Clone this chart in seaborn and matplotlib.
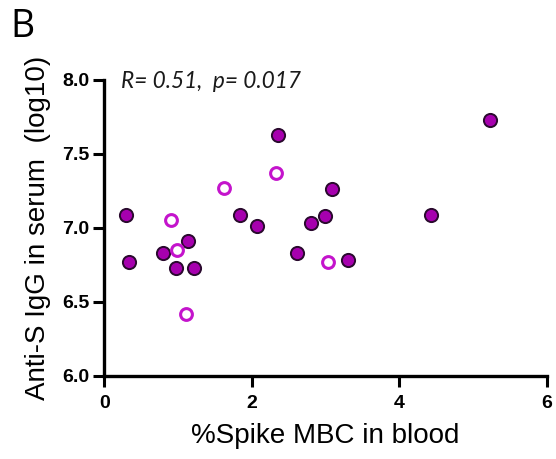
import matplotlib
matplotlib.use("Agg")
import matplotlib.pyplot as plt
import seaborn as sns
import pandas as pd

# Filled points
filled_x = [0.30, 0.34, 0.80, 1.13, 0.97, 1.22, 1.84, 2.07, 2.36, 2.62, 2.80, 2.99, 3.09, 3.31, 4.43, 5.23]
filled_y = [7.09, 6.77, 6.83, 6.91, 6.73, 6.73, 7.09, 7.01, 7.63, 6.83, 7.03, 7.08, 7.26, 6.78, 7.09, 7.73]
# Open points
open_x = [0.90, 1.62, 2.33, 3.04, 1.11, 0.98]
open_y = [7.05, 7.27, 7.37, 6.77, 6.42, 6.85]

xticks = [0, 2, 4, 6]
yticks = [6.0, 6.5, 7.0, 7.5, 8.0]
ytick_labels = ["6.0", "6.5", "7.0", "7.5", "8.0"]

sns.set_style("ticks", {"text.color": "black", "axes.labelcolor": "black",
                        "xtick.color": "black", "ytick.color": "black",
                        "axes.edgecolor": "black"})
plt.rcParams['font.family'] = ['Liberation Sans', 'DejaVu Sans']

fig = plt.figure(figsize=(5.56, 4.59), dpi=100)
ax = fig.add_axes([0.1876, 0.181, 0.7955, 0.645])

df_f = pd.DataFrame({"x": filled_x, "y": filled_y})
df_o = pd.DataFrame({"x": open_x, "y": open_y})

sns.scatterplot(data=df_f, x="x", y="y", ax=ax, s=90, color="#a600ae",
                edgecolor="#2a0a2e", linewidth=1.4, zorder=3, clip_on=False)
sns.scatterplot(data=df_o, x="x", y="y", ax=ax, s=72, facecolor="white",
                edgecolor="#c414cc", linewidth=2.2, zorder=4, clip_on=False)

ax.set_xlim(0, 6)
ax.set_ylim(6.0, 8.0)
ax.set_xticks(xticks)
ax.set_yticks(yticks)
ax.set_yticklabels(ytick_labels)
for lab in ax.get_xticklabels() + ax.get_yticklabels():
    lab.set_fontweight("bold")
    lab.set_fontsize(14)
ax.tick_params(axis="both", width=2.2, length=8, direction="out", color="black")
ax.tick_params(axis="x", pad=6)
ax.tick_params(axis="y", pad=2.5)
for side in ["left", "bottom"]:
    ax.spines[side].set_linewidth(2.4)
sns.despine(ax=ax)

ax.set_xlabel("%Spike MBC in blood", fontsize=20, labelpad=8)
ax.set_ylabel("Anti-S IgG in serum  (log10)", fontsize=20, labelpad=8)

ax.text(0.22, 7.944, "R= 0.51,  p= 0.017", fontsize=16.3, style="italic",
        family=["Lato", "DejaVu Sans"], va="baseline", ha="left", color="#1a1a1a")
fig.text(0.018, 1 - 37 / 459, "B", fontsize=27, va="baseline", ha="left",
         family=["Open Sans", "DejaVu Sans"])

fig.savefig("out.png", dpi=100)
